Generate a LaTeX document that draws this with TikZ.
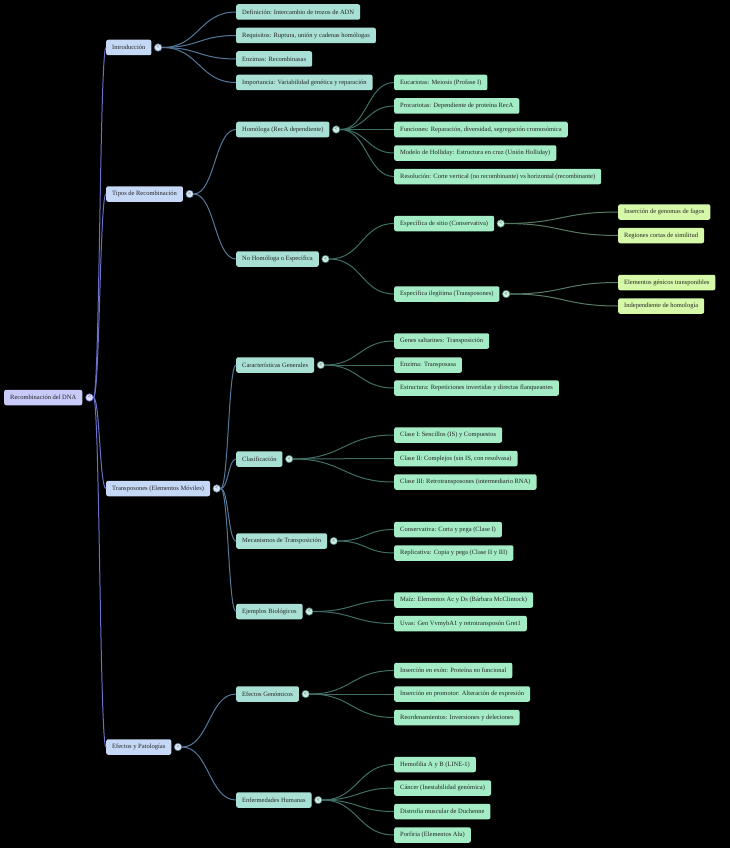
\documentclass[tikz,border=0pt]{standalone}
\usepackage{fontspec}
\setmainfont{Liberation Serif}
\usetikzlibrary{calc}
\definecolor{bg}{HTML}{000000}
\definecolor{c0}{HTML}{C8CAF8}
\definecolor{c1}{HTML}{C5D8F5}
\definecolor{c2}{HTML}{A9E0D5}
\definecolor{c3}{HTML}{A3ECC5}
\definecolor{c4}{HTML}{D5F9A8}
\definecolor{e0}{HTML}{6A70C8}
\definecolor{e1}{HTML}{55789A}
\definecolor{e2}{HTML}{3F6F66}
\definecolor{e3}{HTML}{587A64}
\newcommand{\fs}{\fontsize{6.5}{7.5}\selectfont}
\tikzset{
  box/.style={rectangle, rounded corners=2pt, anchor=west, minimum height=15.5pt,
    inner xsep=6pt, inner ysep=0pt, font=\fs, text=black!85},
  b0/.style={box, fill=c0},
  b1/.style={box, fill=c1},
  b2/.style={box, fill=c2},
  b3/.style={box, fill=c3},
  b4/.style={box, fill=c4},
  dot/.style={circle, minimum size=7.5pt, inner sep=0pt, line width=0.6pt,
    font=\fontsize{5}{5}\selectfont\bfseries, text=black!75},
  l0/.style={draw=e0, line width=1pt},
  l1/.style={draw=e1, line width=1pt},
  l2/.style={draw=e2, line width=1pt},
  l3/.style={draw=e3, line width=1pt},
}
\newcommand{\lnk}[3]{\draw[#3] let \p1=(#1.east), \p2=(#2.west) in (\p1) .. controls ({(\x1+\x2)/2},\y1) and ({(\x1+\x2)/2},\y2) .. (\p2);}
\begin{document}
\begin{tikzpicture}[x=1pt,y=-1pt]
\fill[bg] (0,0) rectangle (730,848);
\useasboundingbox (0,0) rectangle (730,848);
% root
\node[b0] (root) at (4,397.5) {Recombinación del DNA};
% level 1
\node[b1] (intro) at (106,47.5) {Introducción};
\node[b1] (tipos) at (106,194) {Tipos de Recombinación};
\node[b1] (trans) at (106,488.5) {Transposones (Elementos Móviles)};
\node[b1] (efect) at (106,747) {Efectos y Patologías};
% intro children
\node[b2] (def) at (236,12) {Definición: Intercambio de trozos de ADN};
\node[b2] (req) at (236,35.5) {Requisitos: Ruptura, unión y cadenas homólogas};
\node[b2] (enz) at (236,59) {Enzimas: Recombinasas};
\node[b2] (imp) at (236,82.5) {Importancia: Variabilidad genética y reparación};
% tipos children
\node[b2] (homo) at (236,129.5) {Homóloga (RecA dependiente)};
\node[b2] (nohomo) at (236,259) {No Homóloga o Específica};
% homo children
\node[b3] (euc) at (394,82.5) {Eucariotas: Meiosis (Profase I)};
\node[b3] (proc) at (394,106) {Procariotas: Dependiente de proteína RecA};
\node[b3] (func) at (394,129.5) {Funciones: Reparación, diversidad, segregación cromosómica};
\node[b3] (holl) at (394,153) {Modelo de Holliday: Estructura en cruz (Unión Holliday)};
\node[b3] (reso) at (394,176.5) {Resolución: Corte vertical (no recombinante) vs horizontal (recombinante)};
% nohomo children
\node[b3] (sitio) at (394,223.5) {Específica de sitio (Conservativa)};
\node[b3] (ileg) at (394,294) {Específica ilegítima (Transposones)};
\node[b4] (fagos) at (618,212) {Inserción de genomas de fagos};
\node[b4] (simil) at (618,235.5) {Regiones cortas de similitud};
\node[b4] (elem) at (618,282.5) {Elementos génicos transponibles};
\node[b4] (indep) at (618,306) {Independiente de homología};
% trans children
\node[b2] (carac) at (236,365) {Características Generales};
\node[b2] (clasif) at (236,459) {Clasificación};
\node[b2] (mecan) at (236,541) {Mecanismos de Transposición};
\node[b2] (ejem) at (236,611.5) {Ejemplos Biológicos};
\node[b3] (genes) at (394,341) {Genes saltarines: Transposición};
\node[b3] (transp) at (394,365) {Enzima: Transposasa};
\node[b3] (estr) at (394,388) {Estructura: Repeticiones invertidas y directas flanqueantes};
\node[b3] (cI) at (394,435) {Clase I: Sencillos (IS) y Compuestos};
\node[b3] (cII) at (394,458.5) {Clase II: Complejos (sin IS, con resolvasa)};
\node[b3] (cIII) at (394,482) {Clase III: Retrotransposones (intermediario RNA)};
\node[b3] (cons) at (394,529.5) {Conservativa: Corta y pega (Clase I)};
\node[b3] (repl) at (394,553) {Replicativa: Copia y pega (Clase II y III)};
\node[b3] (maiz) at (394,600) {Maíz: Elementos Ac y Ds (Bárbara McClintock)};
\node[b3] (uvas) at (394,623.5) {Uvas: Gen VvmybA1 y retrotransposón Gret1};
% efect children
\node[b2] (egen) at (236,694) {Efectos Genómicos};
\node[b2] (enf) at (236,800) {Enfermedades Humanas};
\node[b3] (exon) at (394,670.5) {Inserción en exón: Proteína no funcional};
\node[b3] (prom) at (394,694) {Inserción en promotor: Alteración de expresión};
\node[b3] (reord) at (394,717.5) {Reordenamientos: Inversiones y deleciones};
\node[b3] (hemo) at (394,764.5) {Hemofilia A y B (LINE-1)};
\node[b3] (canc) at (394,788) {Cáncer (Inestabilidad genómica)};
\node[b3] (dist) at (394,811.5) {Distrofia muscular de Duchenne};
\node[b3] (porf) at (394,835) {Porfiria (Elementos Alu)};
% dots
\node[dot, fill=c0!60!white, draw=e0] (droot) at ([xshift=7pt]root.east) {<};
\node[dot, fill=c1!60!white, draw=e1] (dintro) at ([xshift=6.5pt]intro.east) {<};
\node[dot, fill=c1!60!white, draw=e1] (dtipos) at ([xshift=6.5pt]tipos.east) {<};
\node[dot, fill=c1!60!white, draw=e1] (dtrans) at ([xshift=6.5pt]trans.east) {<};
\node[dot, fill=c1!60!white, draw=e1] (defect) at ([xshift=6.5pt]efect.east) {<};
\node[dot, fill=c2!60!white, draw=e2] (dhomo) at ([xshift=6.5pt]homo.east) {<};
\node[dot, fill=c2!60!white, draw=e2] (dnohomo) at ([xshift=6.5pt]nohomo.east) {<};
\node[dot, fill=c3!60!white, draw=e3] (dsitio) at ([xshift=6.5pt]sitio.east) {<};
\node[dot, fill=c3!60!white, draw=e3] (dileg) at ([xshift=6.5pt]ileg.east) {<};
\node[dot, fill=c2!60!white, draw=e2] (dcarac) at ([xshift=6.5pt]carac.east) {<};
\node[dot, fill=c2!60!white, draw=e2] (dclasif) at ([xshift=6.5pt]clasif.east) {<};
\node[dot, fill=c2!60!white, draw=e2] (dmecan) at ([xshift=6.5pt]mecan.east) {<};
\node[dot, fill=c2!60!white, draw=e2] (dejem) at ([xshift=6.5pt]ejem.east) {<};
\node[dot, fill=c2!60!white, draw=e2] (degen) at ([xshift=6.5pt]egen.east) {<};
\node[dot, fill=c2!60!white, draw=e2] (denf) at ([xshift=6.5pt]enf.east) {<};
% links
\lnk{droot}{intro}{l0}
\lnk{droot}{tipos}{l0}
\lnk{droot}{trans}{l0}
\lnk{droot}{efect}{l0}
\lnk{dintro}{def}{l1}
\lnk{dintro}{req}{l1}
\lnk{dintro}{enz}{l1}
\lnk{dintro}{imp}{l1}
\lnk{dtipos}{homo}{l1}
\lnk{dtipos}{nohomo}{l1}
\lnk{dhomo}{euc}{l2}
\lnk{dhomo}{proc}{l2}
\lnk{dhomo}{func}{l2}
\lnk{dhomo}{holl}{l2}
\lnk{dhomo}{reso}{l2}
\lnk{dnohomo}{sitio}{l2}
\lnk{dnohomo}{ileg}{l2}
\lnk{dsitio}{fagos}{l3}
\lnk{dsitio}{simil}{l3}
\lnk{dileg}{elem}{l3}
\lnk{dileg}{indep}{l3}
\lnk{dtrans}{carac}{l1}
\lnk{dtrans}{clasif}{l1}
\lnk{dtrans}{mecan}{l1}
\lnk{dtrans}{ejem}{l1}
\lnk{dcarac}{genes}{l2}
\lnk{dcarac}{transp}{l2}
\lnk{dcarac}{estr}{l2}
\lnk{dclasif}{cI}{l2}
\lnk{dclasif}{cII}{l2}
\lnk{dclasif}{cIII}{l2}
\lnk{dmecan}{cons}{l2}
\lnk{dmecan}{repl}{l2}
\lnk{dejem}{maiz}{l2}
\lnk{dejem}{uvas}{l2}
\lnk{defect}{egen}{l1}
\lnk{defect}{enf}{l1}
\lnk{degen}{exon}{l2}
\lnk{degen}{prom}{l2}
\lnk{degen}{reord}{l2}
\lnk{denf}{hemo}{l2}
\lnk{denf}{canc}{l2}
\lnk{denf}{dist}{l2}
\lnk{denf}{porf}{l2}
\end{tikzpicture}
\end{document}
